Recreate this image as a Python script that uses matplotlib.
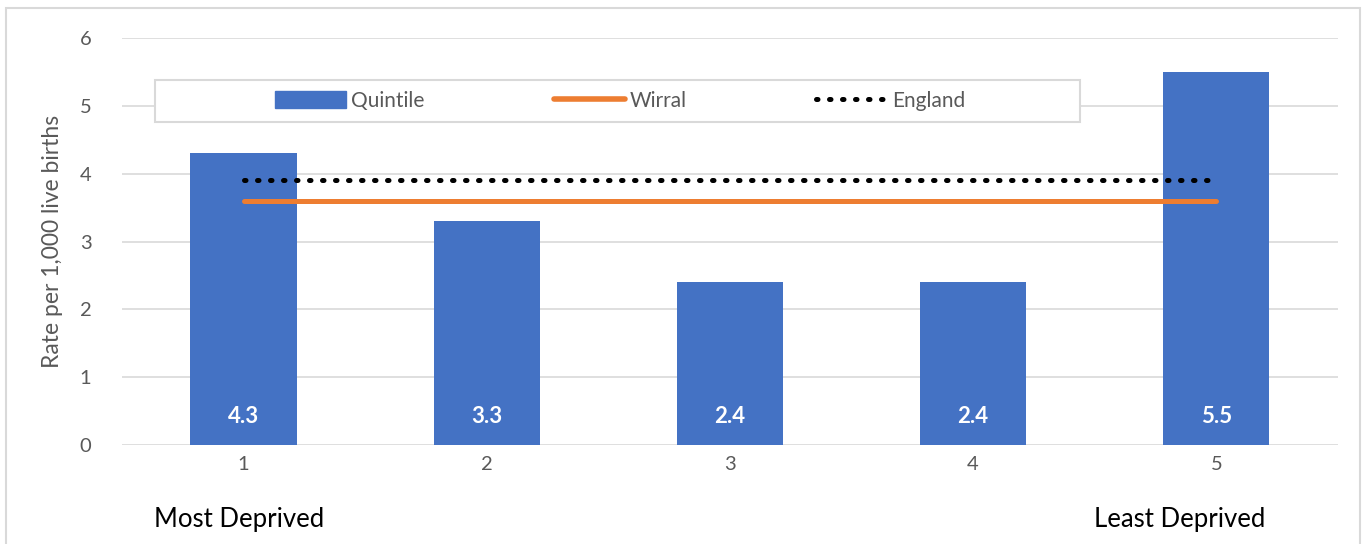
import numpy as np
import matplotlib.pyplot as plt
from matplotlib.patches import Rectangle
from matplotlib.lines import Line2D

plt.rcParams['font.family'] = ['Lato', 'DejaVu Sans']

# data
quintiles = [1, 2, 3, 4, 5]
rates = [4.3, 3.3, 2.4, 2.4, 5.5]
wirral = 3.6
england = 3.9
yticks = [0, 1, 2, 3, 4, 5, 6]

blue = '#4472C4'
orange = '#ED7D31'
grey = '#595959'
dots = (0, (0.3, 2.3))

fig = plt.figure(figsize=(13.68, 5.44), dpi=100)
ax = fig.add_axes([0.0892, 0.182, 0.8888, 0.748])

# chart frame
fig.patches.append(Rectangle((6/1368, -0.1), 1354/1368, 1.1 - 8/544,
                             transform=fig.transFigure, fill=False,
                             edgecolor='#D9D9D9', linewidth=1.5))

x = np.array(quintiles)
ax.bar(x, rates, width=0.437, color=blue, zorder=2)
ax.plot([x[0], x[-1]], [wirral, wirral], color=orange, lw=3.6,
        solid_capstyle='round', zorder=3)
ax.plot([x[0], x[-1]], [england, england], color='black', lw=3.6,
        linestyle=dots, dash_capstyle='round', zorder=3)

for xi, v in zip(x, rates):
    ax.text(xi, 0.42, '{0:.1f}'.format(v), color='white', fontsize=16,
            fontweight='bold', ha='center', va='center', zorder=4)

ax.set_xlim(0.5, 5.5)
ax.set_ylim(0, 6)
ax.set_yticks(yticks)
ax.set_xticks(x)
ax.set_xticklabels([str(q) for q in quintiles])
ax.grid(axis='y', color='#D9D9D9', lw=1.2, zorder=0)
for s in ax.spines.values():
    s.set_visible(False)
ax.tick_params(length=0, labelcolor=grey, labelsize=14.5, pad=8)
ax.tick_params(axis='y', pad=22)
ax.set_ylabel('Rate per 1,000 live births', color=grey, fontsize=16.5, labelpad=12)

ax.text(1 - 0.02, -1.1, 'Most Deprived', fontsize=18.5, ha='center', va='center')
ax.text(5 - 0.15, -1.1, 'Least Deprived', fontsize=18.5, ha='center', va='center')

# legend box
ax.add_patch(Rectangle((0.027, 0.794), 0.761, 0.103, transform=ax.transAxes,
                       facecolor='white', edgecolor='#D9D9D9', lw=1.5, zorder=5))
handles = [Rectangle((0, 0), 1, 1, color=blue),
           Line2D([], [], color=orange, lw=4, solid_capstyle='round'),
           Line2D([], [], color='black', lw=3.6, linestyle=dots,
                  dash_capstyle='round')]
leg = ax.legend(handles, ['Quintile', 'Wirral', 'England'], ncol=3,
                loc='center', bbox_to_anchor=(0.41, 0.8455),
                fontsize=15, frameon=False, handlelength=3.4,
                handleheight=0.9, handletextpad=0.25, columnspacing=6.2,
                borderaxespad=0)
leg.set_zorder(6)
for t in leg.get_texts():
    t.set_color(grey)

plt.savefig('out.png', dpi=100)
